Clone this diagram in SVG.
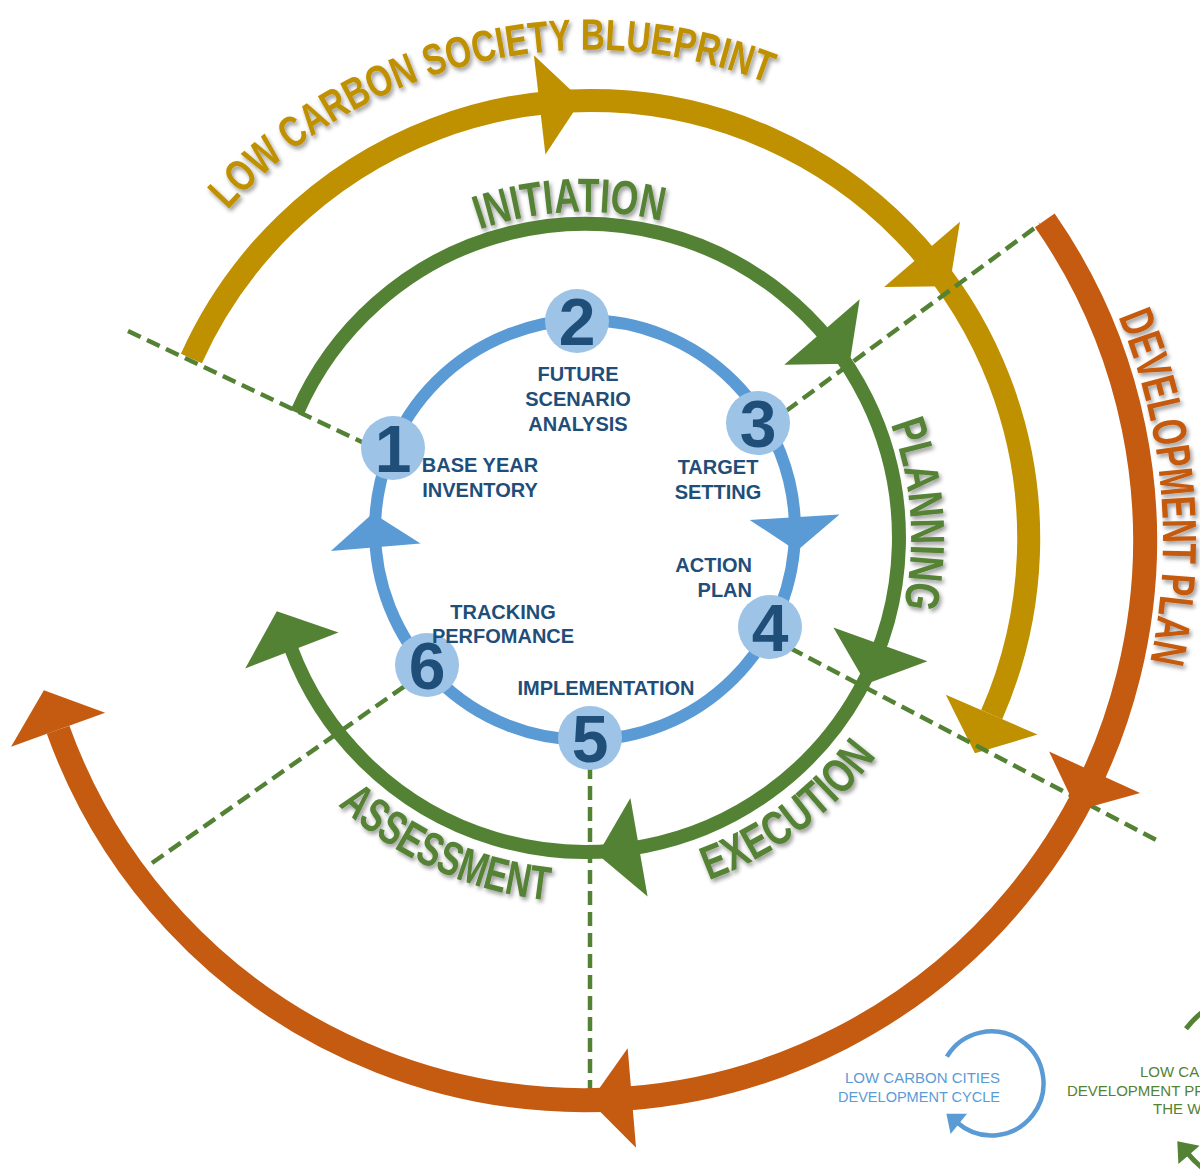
<svg xmlns="http://www.w3.org/2000/svg" width="1200" height="1172" viewBox="0 0 1200 1172">
<defs>
<style>
.ring{fill:none;stroke-linecap:butt}
.gold{stroke:#BF9000;stroke-width:23}
.green{stroke:#548235;stroke-width:14}
.orange{stroke:#C55A11;stroke-width:24}
.blue{stroke:#5B9BD5;stroke-width:12}
.dash{fill:none;stroke:#548235;stroke-width:4.5;stroke-dasharray:14 7}
.node{fill:#9DC3E6}
.num{font-family:"Liberation Sans",Arial,sans-serif;font-weight:bold;font-size:66px;fill:#1F4E79;text-anchor:middle}
.lbl{font-family:"Liberation Sans",Arial,sans-serif;font-weight:bold;font-size:20px;fill:#1F4E79;text-anchor:middle}
.phase{font-family:"Liberation Sans",Arial,sans-serif;font-weight:bold;font-size:48px}
.leg{font-family:"Liberation Sans",Arial,sans-serif;font-size:15px}
</style>
<filter id="sh" x="-20%" y="-20%" width="140%" height="140%">
<feDropShadow dx="2" dy="3" stdDeviation="2" flood-color="#000" flood-opacity="0.4"/>
</filter>
<polygon id="ah" points="0,-50 42,0 0,50"/>
<polygon id="ahb" points="0,-45 34,0 0,45"/>
<path id="tpGold" d="M100 540 A490 490 0 1 1 1080 540 A490 490 0 1 1 100 540"/>
<path id="tpGreen" d="M259 538 A326 326 0 1 1 911 538 A326 326 0 1 1 259 538"/>
<path id="tpGreenCcw" d="M221 538 A364 364 0 1 0 949 538 A364 364 0 1 0 221 538"/>
<path id="tpOrange" d="M7 540 A578 578 0 1 1 1163 540 A578 578 0 1 1 7 540"/>
</defs>
<rect width="1200" height="1172" fill="#FFFFFF"/>

<g id="connectors">
<g id="gold-ring">
<path class="ring gold" d="M191.4 358.4 A438 438 0 0 1 991.7 714.6"/>
<use href="#ah" fill="#BF9000" transform="translate(590,540) rotate(-96.6) translate(438,0) rotate(90)"/>
<use href="#ah" fill="#BF9000" transform="translate(590,540) rotate(-40.7) translate(438,0) rotate(90)"/>
<use href="#ah" fill="#BF9000" transform="translate(590,540) rotate(23.5) translate(438,0) rotate(90)"/>
</g>
<g id="green-ring">
<path class="ring green" d="M297.0 412.7 A314 314 0 1 1 290.9 648.0"/>
<use href="#ah" fill="#548235" transform="translate(585,538) rotate(-41) translate(314,0) rotate(90)"/>
<use href="#ah" fill="#548235" transform="translate(585,538) rotate(19.8) translate(314,0) rotate(90)"/>
<use href="#ah" fill="#548235" transform="translate(585,538) rotate(80.1) translate(314,0) rotate(90)"/>
<use href="#ah" fill="#548235" transform="translate(585,538) rotate(159) translate(314,0) rotate(90)"/>
</g>
<g id="dividers">
<path class="dash" d="M128 331 L366 444"/>
<path class="dash" d="M786 411 L1040 224"/>
<path class="dash" d="M790 648 L1162 843"/>
<path class="dash" d="M590 765 L590 1090"/>
<path class="dash" d="M152 863 L405 686"/>
</g>
<g id="orange-ring">
<path class="ring orange" d="M1044.8 220.4 A560 560 0 1 1 58.1 729.7"/>
<use href="#ah" fill="#C55A11" transform="translate(585,540) rotate(24.5) translate(560,0) rotate(90)"/>
<use href="#ah" fill="#C55A11" transform="translate(585,540) rotate(85.2) translate(560,0) rotate(90)"/>
<use href="#ah" fill="#C55A11" transform="translate(585,540) rotate(160.2) translate(560,0) rotate(90)"/>
</g>
<g id="blue-ring">
<circle class="ring blue" cx="585" cy="530" r="210"/>
<use href="#ahb" fill="#5B9BD5" transform="translate(585,530) rotate(-3.5) translate(210,0) rotate(90)"/>
<use href="#ahb" fill="#5B9BD5" transform="translate(585,530) rotate(175.3) translate(210,0) rotate(90)"/>
</g>
</g>

<g id="phase-labels" class="phase" filter="url(#sh)">
<text fill="#BF9000" style="font-size:44px"><textPath href="#tpGold" startOffset="656.8" text-anchor="middle" textLength="590" lengthAdjust="spacingAndGlyphs">LOW CARBON SOCIETY BLUEPRINT</textPath></text>
<text fill="#548235"><textPath href="#tpGreen" startOffset="497" text-anchor="middle" textLength="185" lengthAdjust="spacingAndGlyphs">INITIATION</textPath></text>
<text fill="#548235"><textPath href="#tpGreen" startOffset="1000.8" text-anchor="middle" textLength="186" lengthAdjust="spacingAndGlyphs">PLANNING</textPath></text>
<text fill="#548235"><textPath href="#tpGreenCcw" startOffset="803.6" text-anchor="middle" textLength="212" lengthAdjust="spacingAndGlyphs">EXECUTION</textPath></text>
<text fill="#548235"><textPath href="#tpGreenCcw" startOffset="417.4" text-anchor="middle" textLength="235" lengthAdjust="spacingAndGlyphs">ASSESSMENT</textPath></text>
<text fill="#C55A11" style="font-size:48px"><textPath href="#tpOrange" startOffset="1762.5" text-anchor="middle" textLength="352" lengthAdjust="spacingAndGlyphs">DEVELOPMENT PLAN</textPath></text>
</g>

<g id="node1">
<circle class="node" cx="393" cy="448" r="32"/>
<text class="num" x="393" y="472">1</text>
<text class="lbl" x="480" y="472">BASE YEAR</text>
<text class="lbl" x="480" y="497">INVENTORY</text>
</g>
<g id="node2">
<circle class="node" cx="577" cy="321" r="32"/>
<text class="num" x="577" y="345">2</text>
<text class="lbl" x="578" y="381">FUTURE</text>
<text class="lbl" x="578" y="406">SCENARIO</text>
<text class="lbl" x="578" y="431">ANALYSIS</text>
</g>
<g id="node3">
<circle class="node" cx="758" cy="423" r="32"/>
<text class="num" x="758" y="447">3</text>
<text class="lbl" x="718" y="474">TARGET</text>
<text class="lbl" x="718" y="499">SETTING</text>
</g>
<g id="node4">
<circle class="node" cx="770" cy="627" r="32"/>
<text class="num" x="770" y="651">4</text>
<text class="lbl" x="752" y="572" style="text-anchor:end">ACTION</text>
<text class="lbl" x="752" y="597" style="text-anchor:end">PLAN</text>
</g>
<g id="node5">
<circle class="node" cx="590" cy="738" r="32"/>
<text class="num" x="590" y="762">5</text>
<text class="lbl" x="606" y="695">IMPLEMENTATION</text>
</g>
<g id="node6">
<circle class="node" cx="427" cy="665" r="32"/>
<text class="num" x="427" y="689">6</text>
<text class="lbl" x="503" y="619">TRACKING</text>
<text class="lbl" x="503" y="643">PERFOMANCE</text>
</g>

<g id="legend-blue">
<path d="M946.9 1056.7 A52 52 0 1 1 957.4 1122.7" fill="none" stroke="#5B9BD5" stroke-width="4.5"/>
<polygon points="946.4,1113.8 967.0,1113.8 950.6,1134.0" fill="#5B9BD5"/>
<text class="leg" x="1000" y="1083" fill="#5B9BD5" text-anchor="end" textLength="155" lengthAdjust="spacingAndGlyphs">LOW CARBON CITIES</text>
<text class="leg" x="1000" y="1102" fill="#5B9BD5" text-anchor="end" textLength="162" lengthAdjust="spacingAndGlyphs">DEVELOPMENT CYCLE</text>
</g>
<g id="legend-green">
<path d="M1186.0 1028.7 A100 100 0 1 1 1187.3 1152.9" fill="none" stroke="#548235" stroke-width="5"/>
<polygon points="1177.3,1141.2 1199.6,1145.8 1178.4,1164.0" fill="#548235"/>
<text class="leg" x="1140" y="1077" fill="#548235">LOW CA</text>
<text class="leg" x="1067" y="1096" fill="#548235">DEVELOPMENT PRO</text>
<text class="leg" x="1153" y="1114" fill="#548235">THE WO</text>
</g>
</svg>
